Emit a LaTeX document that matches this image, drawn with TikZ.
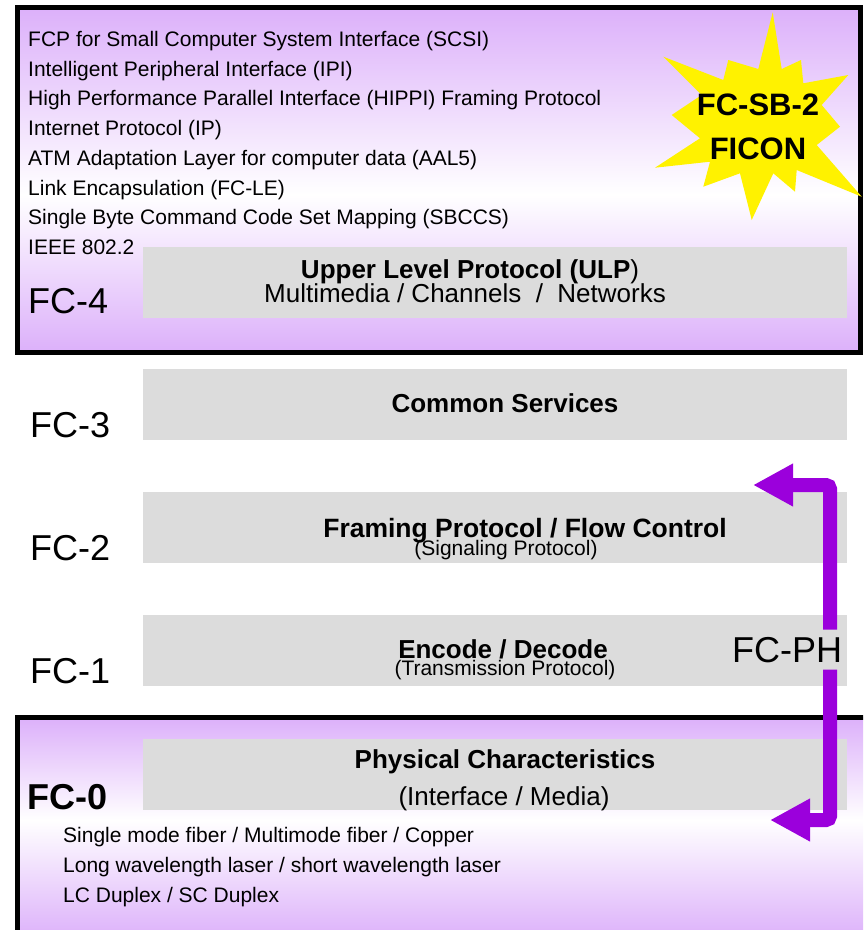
\documentclass[tikz,border=0pt]{standalone}
\usepackage{fontspec}
\setmainfont{Liberation Sans}
\usetikzlibrary{arrows.meta}
\definecolor{fcpurple}{RGB}{220,176,250}
\definecolor{fcviolet}{RGB}{155,0,220}
\definecolor{fcgray}{RGB}{220,220,220}
\tikzset{>=latex}

\begin{document}
\begin{tikzpicture}[x=1pt,y=-1pt,
    fclabel/.style={anchor=base west,inner sep=0pt,font=\fontsize{36}{40}\selectfont},
    listtext/.style={anchor=base west,inner sep=0pt,font=\fontsize{21}{25}\selectfont},
    title/.style={anchor=base,inner sep=0pt,font=\bfseries\fontsize{26}{30}\selectfont},
    subtitle/.style={anchor=base,inner sep=0pt,font=\fontsize{26}{30}\selectfont},
    smalltext/.style={anchor=base,inner sep=0pt,font=\fontsize{21}{25}\selectfont},
    stext/.style={anchor=base,inner sep=0pt,font=\bfseries\fontsize{31}{35}\selectfont},
    pharrow/.style={draw=fcviolet,line width=14pt,rounded corners=4pt,
      -{Triangle[length=40pt,width=40pt]}}]
    \useasboundingbox (0,0) rectangle (863,930);
    \clip (0,0) rectangle (863,930);

    \shade [top color=fcpurple,bottom color=white] (17.5,7.5) rectangle (860.5,195);
    \shade [top color=white,bottom color=fcpurple] (17.5,195) rectangle (860.5,352.5);
    \draw [line width=5pt] (17.5,7.5) rectangle (860.5,352.5);

    \shade [top color=fcpurple,bottom color=white] (17.5,717.5) rectangle (870,820);
    \shade [top color=white,bottom color=fcpurple] (17.5,820) rectangle (870,940);
    \draw [line width=5pt] (17.5,717.5) rectangle (870,940);

    \foreach \y in {247,369,492,615,739}
      \fill [fcgray] (143,\y) rectangle (847,\y+71);

    \fill [yellow] (772.7,12.3) -- (781.7,69) -- (801,60) -- (803.3,83.3)
      -- (848.3,75) -- (821.7,105) -- (840,126.7) -- (816.7,145)
      -- (861.7,196.7) -- (796.7,170) -- (795,191.7) -- (773.3,173.3)
      -- (751.7,220) -- (740,173.3) -- (703.3,186.7) -- (710,161.7)
      -- (655,167.7) -- (700,138.3) -- (671.7,115) -- (701.7,95)
      -- (663.3,56.7) -- (723.3,80) -- (728.3,60) -- (758.3,69) -- cycle;
    \node [stext] (sb2) at (758,115) {FC-SB-2};
    \node [stext] (ficon) at (758,159) {FICON};

    \foreach \t [count=\i from 0] in {FCP for Small Computer System Interface (SCSI),
        Intelligent Peripheral Interface (IPI),
        High Performance Parallel Interface (HIPPI) Framing Protocol,
        Internet Protocol (IP),
        ATM Adaptation Layer for computer data (AAL5),
        Link Encapsulation (FC-LE),
        Single Byte Command Code Set Mapping (SBCCS),
        IEEE 802.2}
      \node [listtext] (ulp\i) at (28,46.5+29.7*\i) {\t};

    \node [fclabel] (fc4) at (28,313) {FC-4};
    \node [fclabel] (fc3) at (30,437) {FC-3};
    \node [fclabel] (fc2) at (30,560) {FC-2};
    \node [fclabel] (fc1) at (30,683) {FC-1};
    \node [fclabel,font=\bfseries\fontsize{36}{40}\selectfont] (fc0) at (27,809) {FC-0};

    \node [title] (ulp) at (470,278) {Upper Level Protocol (ULP\textmd{)}};
    \node [subtitle] (ulpsub) at (465,302) {Multimedia / Channels ~/~ Networks};
    \node [title] (cs) at (505,412) {Common Services};
    \node [title,font=\bfseries\fontsize{26.5}{30}\selectfont] (fp) at (525,537) {Framing Protocol / Flow Control};
    \node [smalltext] (fpsub) at (506,555) {(Signaling Protocol)};
    \node [title] (ed) at (503,658) {Encode / Decode};
    \node [smalltext] (edsub) at (505,675) {(Transmission Protocol)};
    \node [title] (pc) at (505,768) {Physical Characteristics};
    \node [subtitle] (pcsub) at (504,805) {(Interface / Media)};

    \foreach \t [count=\i from 0] in {Single mode fiber / Multimode fiber / Copper,
        Long wavelength laser / short wavelength laser,
        LC Duplex / SC Duplex}
      \node [listtext] (media\i) at (63,842+30*\i) {\t};

    \node [fclabel,inner ysep=7pt] (fcph) at (732,662) {FC-PH};
    \coordinate (uptip) at (753,485);
    \coordinate (upbend) at (830,485);
    \coordinate (downtip) at (770,820);
    \coordinate (downbend) at (830,820);
    \draw [pharrow] (upbend |- fcph.north) -- (upbend) -- (uptip);
    \draw [pharrow] (downbend |- fcph.south) -- (downbend) -- (downtip);
  \end{tikzpicture}
\end{document}
